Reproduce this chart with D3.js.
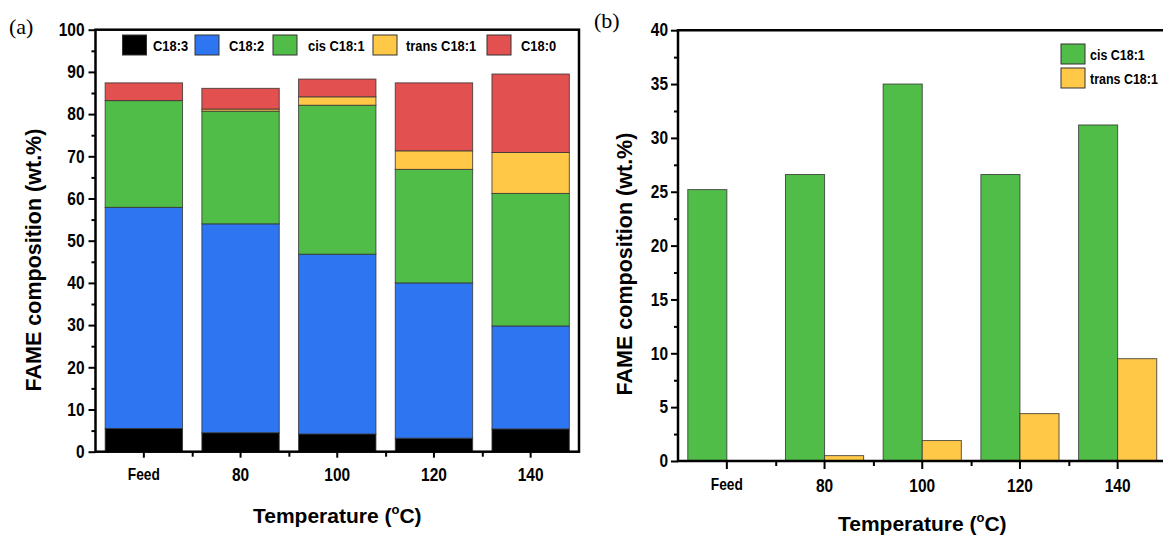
<!DOCTYPE html>
<html>
<head>
<meta charset="utf-8">
<script src="https://cdn.jsdelivr.net/npm/d3@7"></script>
<style>
  html, body { margin: 0; padding: 0; background: #fff; }
  svg { display: block; }
  text { font-family: "Liberation Sans", Arial, sans-serif; font-weight: bold; fill: #000; }
</style>
</head>
<body>
<svg id="chart" width="1163" height="535"></svg>
<script>
// ---------- data ----------
const categories = ["Feed", "80", "100", "120", "140"];
// panel (a) stacked composition (wt.%)
const c183 = [5.5, 4.5, 4.2, 3.2, 5.4];
const c182 = [52.4, 49.5, 42.6, 36.8, 24.4];
const cisC181 = [25.3, 26.7, 35.3, 26.9, 31.4];
const transC181 = [0, 0.5, 2.0, 4.4, 9.7];
const c180 = [4.2, 4.9, 4.2, 16.1, 18.6];
const seriesA = ["C18:3", "C18:2", "cis C18:1", "trans C18:1", "C18:0"];
// panel (b) grouped bars
const cisB = [25.2, 26.6, 35.0, 26.6, 31.2];
const transB = [0, 0.5, 1.9, 4.4, 9.5];
const seriesB = ["cis C18:1", "trans C18:1"];
const yTicksA = [0, 10, 20, 30, 40, 50, 60, 70, 80, 90, 100];
const yTicksB = [0, 5, 10, 15, 20, 25, 30, 35, 40];

const colors = {
  "C18:3": "#000000",
  "C18:2": "#2E75F1",
  "cis C18:1": "#50BD48",
  "trans C18:1": "#FFC847",
  "C18:0": "#E25050"
};

const SX = 0.86; // horizontal condensing of the label glyphs
const svg = d3.select("#chart");

function styleYAxis(g, size, offset) {
  g.select(".domain").remove();
  g.selectAll("line").attr("stroke", "#000").attr("stroke-width", 2);
  g.selectAll("text").style("font-size", size + "px")
    .attr("x", -offset / SX).attr("transform", `scale(${SX},1)`);
}
function styleXAxis(g, size) {
  g.select(".domain").remove();
  g.selectAll("line").attr("stroke", "#000").attr("stroke-width", 2);
  g.selectAll("text").style("font-size", size + "px").attr("transform", `scale(${SX},1)`)
    .filter(d => d === "Feed").style("font-size", (size - 2) + "px");
}
function condensedText(parent, x, y, txt, size) {
  return parent.append("text")
    .attr("transform", `translate(${x},${y}) scale(${SX},1)`)
    .style("font-size", size + "px").text(txt);
}

// ================= Panel (a) =================
const A = { left: 95.5, right: 579, top: 29.7, bottom: 451.7 };
const xa = d3.scaleBand().domain(categories).range([A.left, A.right]).paddingInner(0.2).paddingOuter(0.1);
const ya = d3.scaleLinear().domain([0, 100]).range([A.bottom, A.top]);

const tableA = categories.map((c, i) => ({
  cat: c, "C18:3": c183[i], "C18:2": c182[i], "cis C18:1": cisC181[i],
  "trans C18:1": transC181[i], "C18:0": c180[i]
}));
const stackA = d3.stack().keys(seriesA)(tableA);

const gA = svg.append("g");
gA.selectAll("g.layer").data(stackA).join("g")
  .attr("class", "layer")
  .attr("fill", d => colors[d.key])
  .selectAll("rect").data(d => d).join("rect")
  .attr("x", d => xa(d.data.cat))
  .attr("width", xa.bandwidth())
  .attr("y", d => ya(d[1]))
  .attr("height", d => ya(d[0]) - ya(d[1]))
  .attr("stroke", "#333")
  .attr("stroke-opacity", 0.8)
  .attr("stroke-width", 1);

// y axis (a)
gA.append("g").attr("transform", `translate(${A.left},0)`)
  .call(d3.axisLeft(ya).tickValues(yTicksA).tickSize(7).tickFormat(d3.format("d")))
  .call(g => styleYAxis(g, 18, 11));
gA.append("g").attr("transform", `translate(${A.left},0)`)
  .call(d3.axisLeft(ya).tickValues(d3.range(5, 100, 10)).tickSize(4).tickFormat(""))
  .call(g => { g.select(".domain").remove(); g.selectAll("line").attr("stroke", "#000").attr("stroke-width", 2); });

// x axis (a)
gA.append("g").attr("transform", `translate(0,${A.bottom})`)
  .call(d3.axisBottom(xa).tickSize(6).tickPadding(11))
  .call(g => styleXAxis(g, 18));
const xMinA = d3.scaleLinear().domain([0, categories.length]).range([A.left, A.right]);
gA.append("g").attr("transform", `translate(0,${A.bottom})`)
  .call(d3.axisBottom(xMinA).tickValues(d3.range(1, categories.length)).tickSize(5).tickFormat(""))
  .call(g => { g.select(".domain").remove(); g.selectAll("line").attr("stroke", "#000").attr("stroke-width", 2); });

// frame (a)
gA.append("rect")
  .attr("x", A.left).attr("y", A.top)
  .attr("width", A.right - A.left).attr("height", A.bottom - A.top)
  .attr("fill", "none").attr("stroke", "#000").attr("stroke-width", 2.5);

// legend (a)
const legA = [
  { key: "C18:3", sx: 122.5, tx: 153 },
  { key: "C18:2", sx: 195, tx: 229 },
  { key: "cis C18:1", sx: 273, tx: 308 },
  { key: "trans C18:1", sx: 373, tx: 406 },
  { key: "C18:0", sx: 487, tx: 521 }
];
const lgA = gA.append("g");
lgA.selectAll("rect").data(legA).join("rect")
  .attr("x", d => d.sx).attr("y", 35).attr("width", 24).attr("height", 20)
  .attr("fill", d => colors[d.key]).attr("stroke", "#333").attr("stroke-width", 1);
legA.forEach(d => condensedText(lgA, d.tx, 50.5, d.key, 15));

// titles (a)
gA.append("text")
  .attr("transform", `translate(41,260) rotate(-90)`)
  .attr("text-anchor", "middle")
  .style("font-size", "21.5px")
  .text("FAME composition (wt.%)");
const tA = gA.append("text")
  .attr("x", (A.left + A.right) / 2).attr("y", 523)
  .attr("text-anchor", "middle")
  .style("font-size", "21px");
tA.append("tspan").text("Temperature (");
tA.append("tspan").attr("dy", -9).style("font-size", "13px").text("o");
tA.append("tspan").attr("dy", 9).text("C)");

svg.append("text").attr("x", 9).attr("y", 34)
  .style("font-family", "'Liberation Serif', serif").style("font-weight", "normal")
  .style("font-size", "22px").text("(a)");

// ================= Panel (b) =================
const B = { left: 678, right: 1166.5, top: 30.2, bottom: 461 };
const xb = d3.scaleBand().domain(categories).range([B.left, B.right]).paddingInner(0.2).paddingOuter(0.1);
const xbInner = d3.scaleBand().domain(seriesB).range([0, xb.bandwidth()]);
const yb = d3.scaleLinear().domain([0, 40]).range([B.bottom, B.top]);

const tableB = categories.map((c, i) => ({ cat: c, vals: [
  { key: "cis C18:1", v: cisB[i] }, { key: "trans C18:1", v: transB[i] }] }));

const gB = svg.append("g");
gB.selectAll("g.grp").data(tableB).join("g")
  .attr("class", "grp")
  .attr("transform", d => `translate(${xb(d.cat)},0)`)
  .selectAll("rect").data(d => d.vals.filter(v => v.v > 0)).join("rect")
  .attr("x", d => xbInner(d.key))
  .attr("width", xbInner.bandwidth())
  .attr("y", d => yb(d.v))
  .attr("height", d => yb(0) - yb(d.v))
  .attr("fill", d => colors[d.key])
  .attr("stroke", "#333").attr("stroke-opacity", 0.8).attr("stroke-width", 1);

// y axis (b)
gB.append("g").attr("transform", `translate(${B.left},0)`)
  .call(d3.axisLeft(yb).tickValues(yTicksB).tickSize(7).tickFormat(d3.format("d")))
  .call(g => styleYAxis(g, 18, 10));
gB.append("g").attr("transform", `translate(${B.left},0)`)
  .call(d3.axisLeft(yb).tickValues(d3.range(2.5, 40, 5)).tickSize(4).tickFormat(""))
  .call(g => { g.select(".domain").remove(); g.selectAll("line").attr("stroke", "#000").attr("stroke-width", 2); });

// x axis (b)
gB.append("g").attr("transform", `translate(0,${B.bottom})`)
  .call(d3.axisBottom(xb).tickSize(8).tickPadding(10))
  .call(g => styleXAxis(g, 18));
const xMinB = d3.scaleLinear().domain([0, categories.length]).range([B.left, B.right]);
gB.append("g").attr("transform", `translate(0,${B.bottom})`)
  .call(d3.axisBottom(xMinB).tickValues(d3.range(1, categories.length)).tickSize(5).tickFormat(""))
  .call(g => { g.select(".domain").remove(); g.selectAll("line").attr("stroke", "#000").attr("stroke-width", 2); });

// frame lines (b)
gB.append("path")
  .attr("d", `M${B.right},${B.top}H${B.left}V${B.bottom}H${B.right}`)
  .attr("fill", "none").attr("stroke", "#000").attr("stroke-width", 2.5);

// legend (b)
const legB = gB.append("g");
legB.selectAll("rect").data(seriesB).join("rect")
  .attr("x", 1061).attr("y", (d, i) => 44 + i * 24).attr("width", 24).attr("height", 20)
  .attr("fill", d => colors[d]).attr("stroke", "#333").attr("stroke-width", 1);
seriesB.forEach((d, i) => condensedText(legB, 1090, 59.5 + i * 24, d, 14.5));

// titles (b)
gB.append("text")
  .attr("transform", `translate(632,264) rotate(-90)`)
  .attr("text-anchor", "middle")
  .style("font-size", "21.5px")
  .text("FAME composition (wt.%)");
const tB = gB.append("text")
  .attr("x", (B.left + B.right) / 2).attr("y", 531)
  .attr("text-anchor", "middle")
  .style("font-size", "21px");
tB.append("tspan").text("Temperature (");
tB.append("tspan").attr("dy", -9).style("font-size", "13px").text("o");
tB.append("tspan").attr("dy", 9).text("C)");

svg.append("text").attr("x", 594).attr("y", 28)
  .style("font-family", "'Liberation Serif', serif").style("font-weight", "normal")
  .style("font-size", "22px").text("(b)");
</script>
</body>
</html>
